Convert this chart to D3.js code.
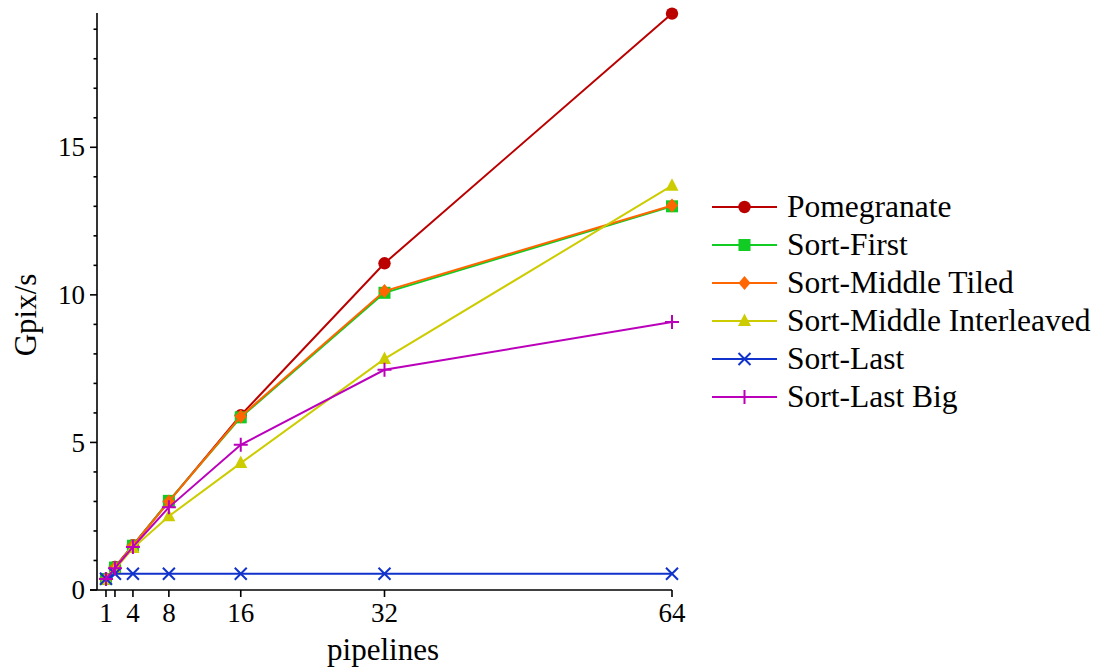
<!DOCTYPE html>
<html>
<head>
<meta charset="utf-8">
<script src="https://cdn.jsdelivr.net/npm/d3@7"></script>
<style>
  html, body { margin: 0; padding: 0; background: #fff; }
  svg { display: block; font-family: "Liberation Serif", "Times New Roman", serif; }
</style>
</head>
<body>
<svg id="chart" width="1104" height="668"></svg>
<script>
// Pipeline counts on the x axis
const pipelines = [1, 2, 4, 8, 16, 32, 64];
const xTickLabels = [1, 4, 8, 16, 32, 64];
const yTickLabels = [0, 5, 10, 15];

// Throughput (Gpix/s) for each architecture
const seriesNames = ["Pomegranate", "Sort-First", "Sort-Middle Tiled", "Sort-Middle Interleaved", "Sort-Last", "Sort-Last Big"];
const pomegranate = [0.38, 0.78, 1.52, 3.0, 5.92, 11.07, 19.53];
const sortFirst = [0.37, 0.76, 1.5, 3.02, 5.85, 10.07, 13.0];
const sortMiddleTiled = [0.37, 0.76, 1.5, 3.0, 5.88, 10.13, 13.03];
const sortMiddleInterleaved = [0.35, 0.7, 1.42, 2.5, 4.3, 7.83, 13.7];
const sortLast = [0.38, 0.55, 0.55, 0.55, 0.55, 0.55, 0.55];
const sortLastBig = [0.37, 0.74, 1.46, 2.8, 4.92, 7.46, 9.08];

const colors = ["#bb0000", "#11cc22", "#ff6600", "#cccc00", "#1133cc", "#bb00bb"];
const markers = ["circle", "square", "diamond", "triangle", "cross", "plus"];
const values = [pomegranate, sortFirst, sortMiddleTiled, sortMiddleInterleaved, sortLast, sortLastBig];

const svg = d3.select("#chart");
const plotLeft = 97, plotRight = 672, plotTop = 13, plotBottom = 590;

const x = d3.scaleLinear().domain([0, 64]).range([plotLeft, plotRight]);
const y = d3.scaleLinear().domain([0, 19.55]).range([plotBottom, plotTop]);

const axisColor = "#000";

// Y axis
const yAxisG = svg.append("g");
yAxisG.append("line").attr("x1", plotLeft).attr("x2", plotLeft).attr("y1", plotBottom).attr("y2", plotTop)
  .attr("stroke", axisColor).attr("stroke-width", 1.6);
d3.range(1, 20).filter(v => v % 5 !== 0).forEach(v => {
  yAxisG.append("line").attr("x1", plotLeft - 3.5).attr("x2", plotLeft).attr("y1", y(v)).attr("y2", y(v))
    .attr("stroke", axisColor).attr("stroke-width", 1.6);
});
yTickLabels.forEach(v => {
  yAxisG.append("line").attr("x1", plotLeft - 7).attr("x2", plotLeft).attr("y1", y(v)).attr("y2", y(v))
    .attr("stroke", axisColor).attr("stroke-width", 1.6);
  yAxisG.append("text").attr("x", plotLeft - 12).attr("y", y(v)).attr("dy", "0.34em")
    .attr("text-anchor", "end").attr("font-size", 27).text(v);
});

// X axis
const xAxisG = svg.append("g");
xAxisG.append("line").attr("x1", plotLeft - 7).attr("x2", plotRight).attr("y1", plotBottom).attr("y2", plotBottom)
  .attr("stroke", axisColor).attr("stroke-width", 1.6);
pipelines.forEach(v => {
  xAxisG.append("line").attr("x1", x(v)).attr("x2", x(v)).attr("y1", plotBottom).attr("y2", plotBottom + 7)
    .attr("stroke", axisColor).attr("stroke-width", 1.6);
});
xTickLabels.forEach(v => {
  xAxisG.append("text").attr("x", x(v)).attr("y", plotBottom + 32)
    .attr("text-anchor", "middle").attr("font-size", 27).text(v);
});

// Axis titles
svg.append("text").attr("x", 383).attr("y", 660)
  .attr("text-anchor", "middle").attr("font-size", 31).text("pipelines");
svg.append("text").attr("transform", "translate(36, 315) rotate(-90)")
  .attr("text-anchor", "middle").attr("font-size", 31).text("Gpix/s");

// Marker drawing
function drawMarker(g, type, cx, cy, color) {
  switch (type) {
    case "circle":
      g.append("circle").attr("cx", cx).attr("cy", cy).attr("r", 6.2).attr("fill", color);
      break;
    case "square":
      g.append("rect").attr("x", cx - 6).attr("y", cy - 6).attr("width", 12).attr("height", 12).attr("fill", color);
      break;
    case "diamond":
      g.append("path").attr("d", `M${cx},${cy - 7}L${cx + 6},${cy}L${cx},${cy + 7}L${cx - 6},${cy}Z`).attr("fill", color);
      break;
    case "triangle":
      g.append("path").attr("d", `M${cx},${cy - 7.5}L${cx + 6.5},${cy + 5}L${cx - 6.5},${cy + 5}Z`).attr("fill", color);
      break;
    case "cross":
      g.append("path").attr("d", `M${cx - 6},${cy - 6}L${cx + 6},${cy + 6}M${cx - 6},${cy + 6}L${cx + 6},${cy - 6}`)
        .attr("stroke", color).attr("stroke-width", 2).attr("fill", "none");
      break;
    case "plus":
      g.append("path").attr("d", `M${cx - 7},${cy}L${cx + 7},${cy}M${cx},${cy - 7}L${cx},${cy + 7}`)
        .attr("stroke", color).attr("stroke-width", 2).attr("fill", "none");
      break;
  }
}

// Series lines and markers
const line = d3.line().x((d, i) => x(pipelines[i])).y(d => y(d));
seriesNames.forEach((name, s) => {
  const g = svg.append("g");
  g.append("path").datum(values[s]).attr("d", line)
    .attr("fill", "none").attr("stroke", colors[s]).attr("stroke-width", 2);
  values[s].forEach((v, i) => drawMarker(g, markers[s], x(pipelines[i]), y(v), colors[s]));
});

// Legend
const legend = svg.append("g");
seriesNames.forEach((name, s) => {
  const ly = 207 + s * 38;
  legend.append("line").attr("x1", 712).attr("x2", 777).attr("y1", ly).attr("y2", ly)
    .attr("stroke", colors[s]).attr("stroke-width", 2);
  drawMarker(legend, markers[s], 744.5, ly, colors[s]);
  legend.append("text").attr("x", 787).attr("y", ly).attr("dy", "0.33em")
    .attr("font-size", 31.5).text(name);
});
</script>
</body>
</html>
